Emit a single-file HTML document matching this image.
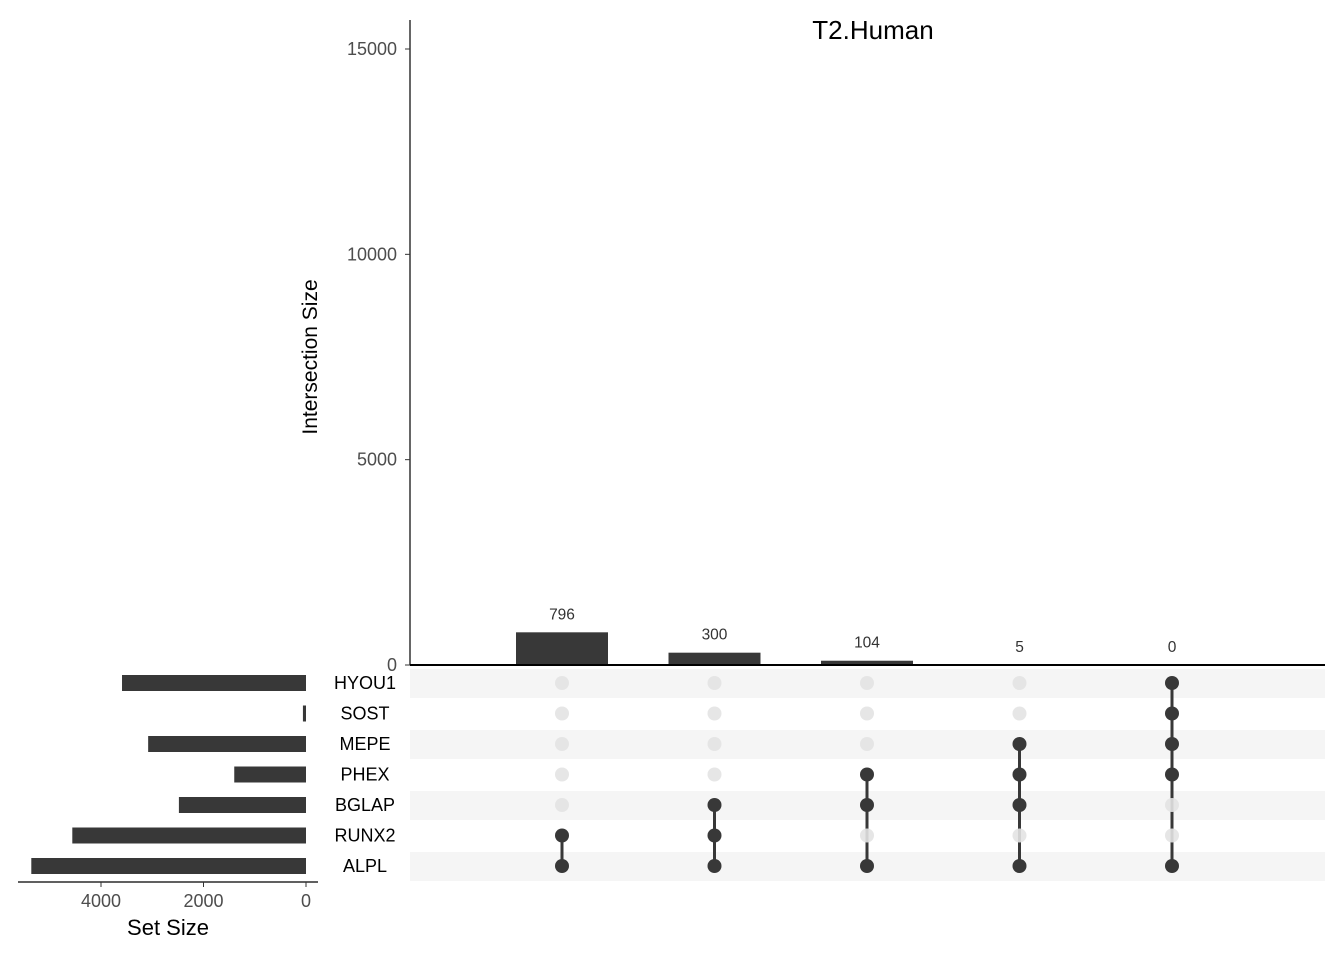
<!DOCTYPE html>
<html><head><meta charset="utf-8"><style>
body{margin:0;background:#fff;}
svg{display:block;font-family:"Liberation Sans",sans-serif;}
</style></head><body>
<svg id="c" width="1344" height="960"></svg>
<script>
const sets=["HYOU1","SOST","MEPE","PHEX","BGLAP","RUNX2","ALPL"];
const setSizes=[3590,60,3080,1400,2480,4560,5360];
const interSizes=[796,300,104,5,0];
const interLabels=["796","300","104","5","0"];
const members=[["RUNX2","ALPL"],["BGLAP","RUNX2","ALPL"],["PHEX","BGLAP","ALPL"],["MEPE","PHEX","BGLAP","ALPL"],["HYOU1","SOST","MEPE","PHEX","ALPL"]];
const yTicks=[0,5000,10000,15000];
const xTicks=[0,2000,4000];

const NS="http://www.w3.org/2000/svg",svg=document.getElementById('c');
function el(t,a,p){const e=document.createElementNS(NS,t);for(const k in a)e.setAttribute(k,a[k]);(p||svg).appendChild(e);return e;}
const y=v=>665-v*(616/15000);
const colX=i=>562+i*152.5;
const rowY=i=>683+i*30.5;
const sx=v=>306-v*(102.5/2000);

let t=el('text',{x:873,y:39,'font-size':26,'text-anchor':'middle',fill:'#000'});t.textContent="T2.Human";


for(let i=0;i<sets.length;i+=2){const r=el('rect',{x:410,y:rowY(i)-14,width:915,height:29,fill:'#f5f5f5'});
}

el('line',{x1:410,y1:20,x2:410,y2:665,stroke:'#000','stroke-width':1.2});
yTicks.forEach(v=>{el('line',{x1:405,y1:y(v),x2:410,y2:y(v),stroke:'#333'});
const tx=el('text',{x:397,y:y(v)+6,'font-size':18,'text-anchor':'end',fill:'#4d4d4d'});tx.textContent=v;
});
t=el('text',{transform:'translate(317,357) rotate(-90)','font-size':21,'text-anchor':'middle',fill:'#000'});t.textContent="Intersection Size";


interSizes.forEach((v,i)=>{const b=el('rect',{x:colX(i)-46,y:y(v),width:92,height:665-y(v),fill:'#383838'});

const l=el('text',{x:colX(i),y:y(v)-13,'font-size':15.5,'text-anchor':'middle',fill:'#333'});l.textContent=interLabels[i];
});
el('line',{x1:410,y1:665,x2:1325,y2:665,stroke:'#000','stroke-width':2});

members.forEach((m,i)=>{const idx=m.map(s=>sets.indexOf(s));
const mn=Math.min(...idx),mx=Math.max(...idx);
const ln=el('line',{x1:colX(i),y1:rowY(mn),x2:colX(i),y2:rowY(mx),stroke:'#383838','stroke-width':3});

sets.forEach((s,j)=>{if(idx.includes(j))return;const d=el('circle',{cx:colX(i),cy:rowY(j),r:7,fill:'#e3e3e3','fill-opacity':0.9});
});
idx.forEach(j=>{const d=el('circle',{cx:colX(i),cy:rowY(j),r:7,fill:'#383838'});
});});

sets.forEach((s,j)=>{const l=el('text',{x:365,y:rowY(j)+6,'font-size':18,'text-anchor':'middle',fill:'#000'});l.textContent=s;

const b=el('rect',{x:sx(setSizes[j]),y:rowY(j)-8,width:306-sx(setSizes[j]),height:16,fill:'#383838'});
});
el('line',{x1:18,y1:882,x2:318,y2:882,stroke:'#000','stroke-width':1.2});
xTicks.forEach(v=>{el('line',{x1:sx(v),y1:882,x2:sx(v),y2:887,stroke:'#333'});
const tx=el('text',{x:sx(v),y:907,'font-size':18,'text-anchor':'middle',fill:'#4d4d4d'});tx.textContent=v;
});
t=el('text',{x:168,y:935,'font-size':22,'text-anchor':'middle',fill:'#000'});t.textContent="Set Size";

</script>
</body></html>
